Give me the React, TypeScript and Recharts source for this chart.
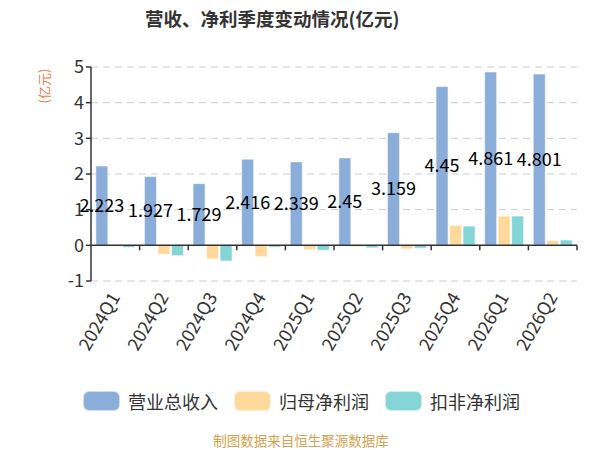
import { BarChart, Bar, XAxis, YAxis, CartesianGrid, ReferenceLine, LabelList } from 'recharts'

const quarters = ['2024Q1', '2024Q2', '2024Q3', '2024Q4', '2025Q1', '2025Q2', '2025Q3', '2025Q4', '2026Q1', '2026Q2']
const revenue = [2.223, 1.927, 1.729, 2.416, 2.339, 2.45, 3.159, 4.45, 4.861, 4.801]
const netProfit = [-0.03, -0.25, -0.38, -0.32, -0.12, -0.04, -0.1, 0.56, 0.82, 0.13]
const deducted = [-0.06, -0.29, -0.44, -0.05, -0.14, -0.07, -0.08, 0.54, 0.82, 0.15]
const yTicks = [-1, 0, 1, 2, 3, 4, 5]

const series = [
  { key: 'revenue', name: '营业总收入', color: '#8badda' },
  { key: 'netProfit', name: '归母净利润', color: '#fed99b' },
  { key: 'deducted', name: '扣非净利润', color: '#85d5d6' },
]

const data = quarters.map((q, i) => ({
  quarter: q,
  revenue: revenue[i],
  netProfit: netProfit[i],
  deducted: deducted[i],
}))

const font = '"Noto Sans CJK SC", "Noto Sans", sans-serif'

function QuarterTick({ x, y, payload }: any) {
  return (
    <text
      x={x}
      y={y + 5}
      transform={`rotate(-60, ${x}, ${y + 5})`}
      textAnchor="end"
      dy="0.35em"
      fontSize={18}
      fill="#333"
      fontFamily={font}
    >
      {payload.value}
    </text>
  )
}

// zero axis line with ticks at category boundaries
function ZeroAxis(props: any) {
  const { x1, x2, y1 } = props
  if (typeof x1 !== 'number' || typeof x2 !== 'number') return <g />
  const step = (x2 - x1) / quarters.length
  return (
    <g>
      <line x1={x1} x2={x2} y1={y1} y2={y1} stroke="#333" strokeWidth={1.5} />
      {quarters.map((_, i) => (
        <line key={i} x1={x1 + step * (i + 1)} x2={x1 + step * (i + 1)} y1={y1} y2={y1 + 5} stroke="#333" strokeWidth={1.5} />
      ))}
    </g>
  )
}

function UnitLabel({ viewBox }: any) {
  const cx = viewBox.x + 2
  const cy = viewBox.y + 19
  return (
    <text
      x={cx}
      y={cy}
      transform={`rotate(-90, ${cx}, ${cy})`}
      textAnchor="middle"
      dominantBaseline="central"
      fontSize={13}
      fill="#e8804d"
      fontFamily={font}
    >
      (亿元)
    </text>
  )
}

export default function App() {
  return (
    <div style={{ position: 'absolute', left: 0, top: 0, width: 600, height: 450, background: '#fff', fontFamily: font }}>
      <div style={{ position: 'absolute', left: 145, top: 5, fontSize: 18.5, fontWeight: 'bold', color: '#333', whiteSpace: 'nowrap' }}>
        营收、净利季度变动情况(亿元)
      </div>

      <BarChart
        width={600}
        height={450}
        data={data}
        margin={{ top: 67, right: 23, left: 41, bottom: 109 }}
        barCategoryGap="10%"
        barGap={1.5}
      >
        <CartesianGrid vertical={false} stroke="#ccc" strokeDasharray="7 5" />
        <XAxis
          dataKey="quarter"
          axisLine={false}
          tickLine={false}
          height={60}
          interval={0}
          tick={<QuarterTick />}
        />
        <YAxis
          width={50}
          domain={[-1, 5]}
          ticks={yTicks}
          interval={0}
          axisLine={{ stroke: '#333', strokeWidth: 1.5 }}
          tickLine={{ stroke: '#333', strokeWidth: 1.5 }}
          tickSize={5}
          tick={{ fontSize: 18, fill: '#333', fontFamily: font }}
          label={<UnitLabel />}
        />
        <ReferenceLine y={0} shape={<ZeroAxis />} />
        {series.map((s) => (
          <Bar
            key={s.key}
            dataKey={s.key}
            name={s.name}
            fill={s.color}
            stroke="rgba(255,255,255,0.55)"
            strokeWidth={1}
            isAnimationActive={false}
          >
            {s.key === 'revenue' && (
              <LabelList dataKey="revenue" position="center" fill="#000" fontSize={18} fontFamily={font} />
            )}
          </Bar>
        ))}
      </BarChart>

      <div style={{ position: 'absolute', left: 83, top: 391, display: 'flex', alignItems: 'center' }}>
        {series.map((s) => (
          <div key={s.key} style={{ display: 'flex', alignItems: 'center', marginRight: 16 }}>
            <div style={{ width: 37, height: 20, borderRadius: 6, background: s.color, boxSizing: 'border-box', border: '1px solid rgba(255,255,255,0.6)' }} />
            <span style={{ marginLeft: 8, fontSize: 18, color: '#333', lineHeight: '20px' }}>{s.name}</span>
          </div>
        ))}
      </div>

      <div style={{ position: 'absolute', left: 0, width: 602, top: 432, textAlign: 'center', fontSize: 13.5, lineHeight: '16px', color: '#d4a24c' }}>
        制图数据来自恒生聚源数据库
      </div>
    </div>
  )
}
